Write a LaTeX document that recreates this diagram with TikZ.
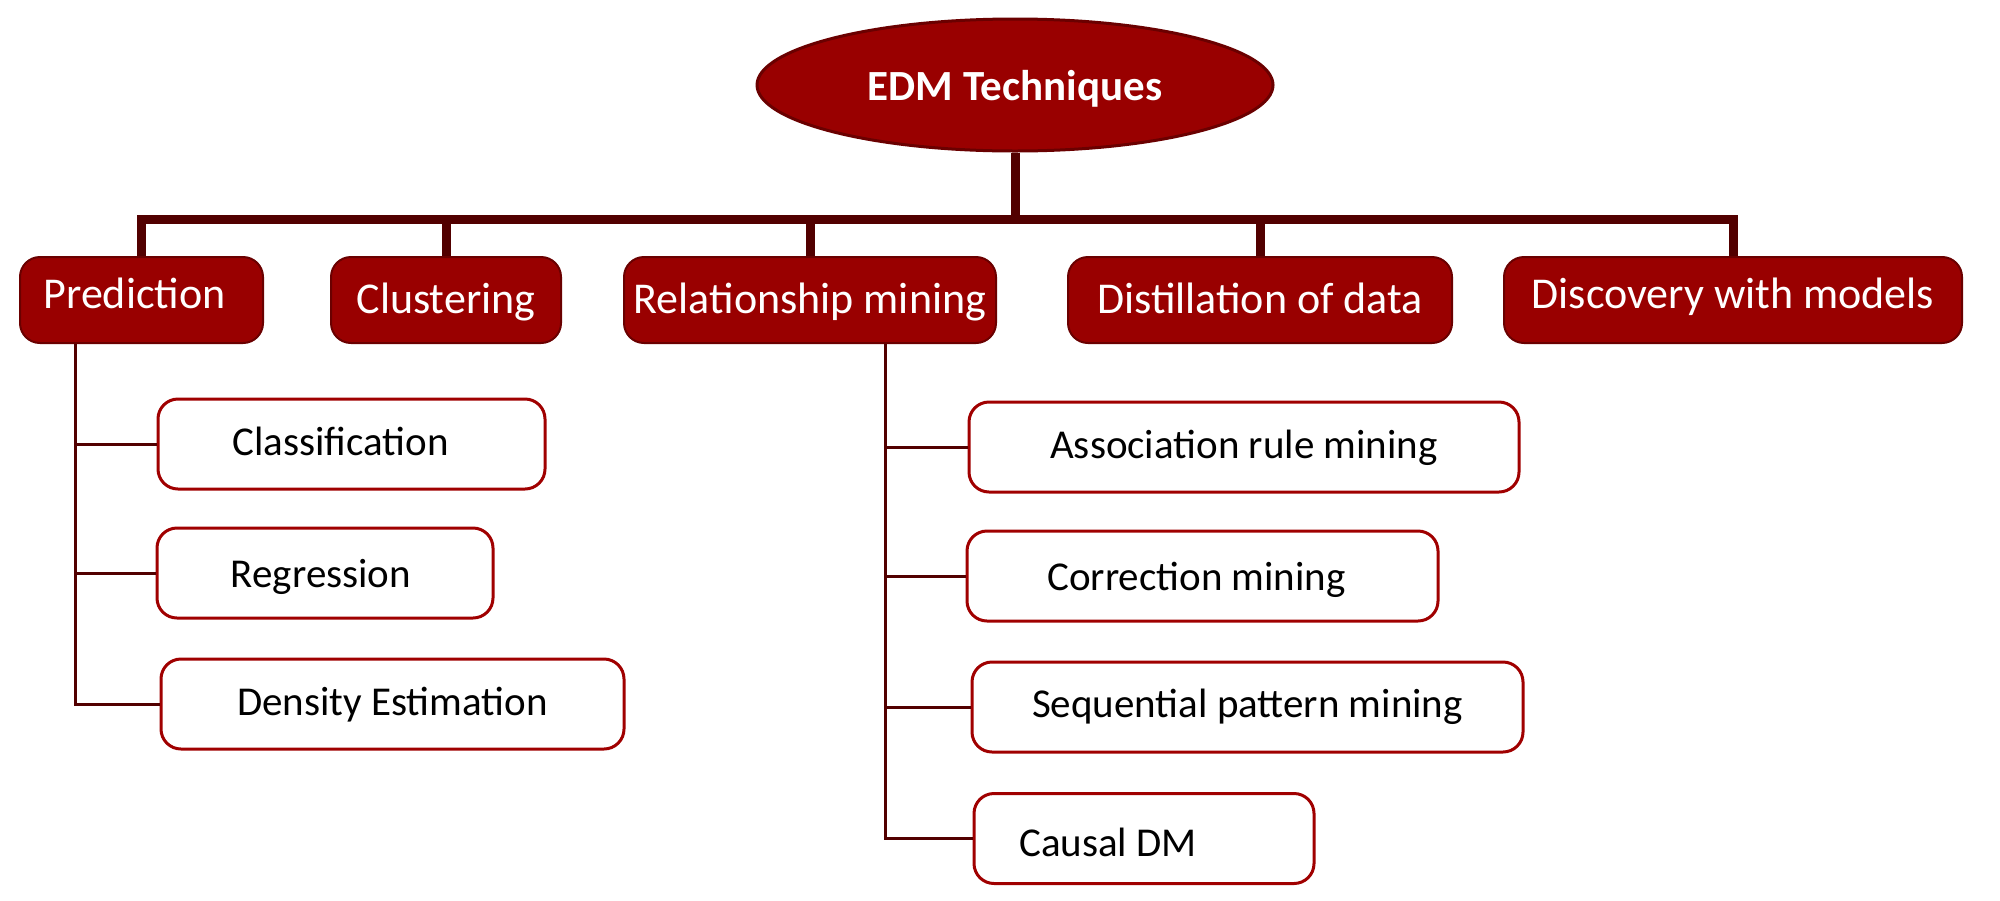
\documentclass[tikz,border=0pt]{standalone}
\usepackage{fontspec}
\setmainfont{Carlito}
\usetikzlibrary{shapes.geometric}
\definecolor{boxred}{HTML}{990000}
\definecolor{edgered}{HTML}{6A0000}
\definecolor{linered}{HTML}{520000}
\definecolor{subred}{HTML}{A00000}
\begin{document}
\begin{tikzpicture}[x=0.5pt,y=-0.5pt,
  edmnode/.style={ellipse, draw=edgered, line width=1.5pt, fill=boxred, text=white,
    minimum width=258pt, minimum height=66pt, inner sep=0pt,
    font=\fontsize{21.5}{26}\selectfont\bfseries, text depth=0pt},
  topbox/.style={rectangle, draw=edgered, line width=1pt, fill=boxred, rounded corners=10pt,
    text=white, font=\fontsize{22}{26}\selectfont, inner sep=0pt, minimum height=43pt, text depth=0pt},
  subbox/.style={rectangle, draw=subred, line width=1.5pt, fill=white, rounded corners=10pt,
    text=black, font=\fontsize{20.5}{24}\selectfont, inner sep=0pt, minimum height=45pt, text depth=0pt},
  bus/.style={draw=linered, line width=4.5pt, line join=miter},
  twig/.style={draw=linered, line width=1.5pt, line join=miter}]
\path[use as bounding box] (0,0) rectangle (2000,900);

% root
\node[edmnode, text height=15pt] (edm) at (1015,85) {EDM Techniques};

% top level
\node[topbox, minimum width=121.5pt, text height=8pt]  (pred) at (141.5,300) {Prediction\hspace*{7pt}};
\node[topbox, minimum width=115pt,   text height=13pt] (clus) at (446,300)   {Clustering};
\node[topbox, minimum width=186pt,   text height=13pt] (rel)  at (810,300)   {Relationship mining};
\node[topbox, minimum width=192pt,   text height=13pt] (dist) at (1260,300)  {Distillation of data};
\node[topbox, minimum width=229pt,   text height=8pt]  (disc) at (1733,300)  {Discovery with models};

% prediction children
\node[subbox, minimum width=193.5pt, text height=11pt] (cls)  at (351.5,444) {Classification\hspace*{11pt}};
\node[subbox, minimum width=168pt,   text height=14pt] (reg)  at (325,573)   {Regression\hspace*{4pt}};
\node[subbox, minimum width=231.5pt, text height=11pt] (dens) at (392.5,704) {Density Estimation};

% relationship mining children
\node[subbox, minimum width=275pt,   text height=11pt] (assoc)  at (1244,447)   {Association rule mining};
\node[subbox, minimum width=235.5pt, text height=14pt] (corr)   at (1202.5,576) {Correction mining\hspace*{6pt}};
\node[subbox, minimum width=275.5pt, text height=10pt] (seq)    at (1247.5,707) {Sequential pattern mining};
\node[subbox, minimum width=170pt,   text height=18pt] (causal) at (1144,838.5) {Causal DM\hspace*{36pt}};

% bus
\coordinate (busy) at (0,219);
\coordinate (pv) at (75,0);
\coordinate (rv) at (885,0);

\draw[bus] (edm.south) -- (edm.south |- busy);
\draw[bus] (pred.north) -- (pred.north |- busy) -- (disc.north |- busy) -- (disc.north);
\draw[bus] (clus.north) -- (clus.north |- busy);
\draw[bus] (rel.north)  -- (rel.north |- busy);
\draw[bus] (dist.north) -- (dist.north |- busy);

% prediction branches
\draw[twig] (pv |- pred.south) -- (pv |- dens.west) -- (dens.west);
\draw[twig] (pv |- cls.west) -- (cls.west);
\draw[twig] (pv |- reg.west) -- (reg.west);

% relationship branches
\draw[twig] (rv |- rel.south) -- (rv |- causal.west) -- (causal.west);
\draw[twig] (rv |- assoc.west) -- (assoc.west);
\draw[twig] (rv |- corr.west) -- (corr.west);
\draw[twig] (rv |- seq.west) -- (seq.west);
\end{tikzpicture}
\end{document}
